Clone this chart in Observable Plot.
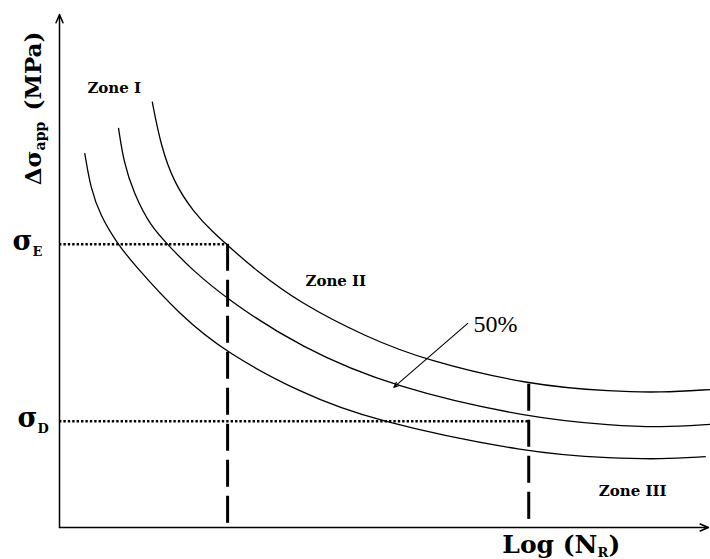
<!DOCTYPE html>
<html><head><meta charset="utf-8">
<script src="https://cdn.jsdelivr.net/npm/d3@7"></script>
<script src="https://cdn.jsdelivr.net/npm/@observablehq/plot@0.6"></script>
<style>body{margin:0;background:#fff}</style>
</head><body><div id="chart"></div>
<script>
// Schematic S-N (Wöhler) curves, arbitrary units: x = Log(N_R), y = stress amplitude
const curveTopX = [1.43,1.56,1.76,2.07,2.37,2.59,2.99,3.71,4.75,5.64,7.26,8.54,9.26,10.03];
const curveTopY = [8.29,7.45,6.73,6.14,5.75,5.50,5.05,4.37,3.70,3.26,2.77,2.65,2.63,2.69];
const curveMidX = [0.91,0.99,1.14,1.40,1.71,2.02,2.59,3.71,5.15,7.26,8.54,9.26,10.03];
const curveMidY = [7.78,7.12,6.53,5.87,5.46,5.05,4.44,3.51,2.73,2.13,1.99,1.95,2.01];
const curveLowX = [0.39,0.48,0.63,0.89,1.13,1.86,2.59,3.71,4.79,7.26,8.54,9.26,9.95];
const curveLowY = [7.29,6.61,6.08,5.54,5.15,4.13,3.39,2.63,2.09,1.44,1.35,1.33,1.38];

const levelNames = ["E", "D"];          // σ_E, σ_D
const levelValues = [5.52, 2.07];
const levelEnds = [2.59, 7.23];         // where the dotted lines stop
const dropX = [2.59, 7.23];             // vertical dashed lines
const dropTop = [5.52, 2.79];
const zoneNames = ["Zone I", "Zone II", "Zone III"];
const zoneX = [0.43, 3.79, 8.31];
const zoneY = [8.56, 4.80, 0.70];
const pointerLabel = "50%";
const pointerFrom = [6.29, 3.98];
const pointerTo = [5.15, 2.73];
const xDomain = [0, 10];
const yDomain = [0, 10];

const curves = [
  ...curveTopX.map((x, i) => ({c: "top", x, y: curveTopY[i]})),
  ...curveMidX.map((x, i) => ({c: "mid", x, y: curveMidY[i]})),
  ...curveLowX.map((x, i) => ({c: "low", x, y: curveLowY[i]}))
];
const levels = levelNames.map((n, i) => ({n, y: levelValues[i], xEnd: levelEnds[i]}));
const drops = dropX.map((x, i) => ({x, top: dropTop[i]}));
const zones = zoneNames.map((t, i) => ({t, x: zoneX[i], y: zoneY[i]}));
const axes = [
  {x1: xDomain[0], y1: yDomain[0], x2: xDomain[0], y2: yDomain[1]},
  {x1: xDomain[0], y1: yDomain[0], x2: xDomain[1], y2: yDomain[0]}
];
const pointer = [{x1: pointerFrom[0], y1: pointerFrom[1], x2: pointerTo[0], y2: pointerTo[1]}];

const serif = "'DejaVu Serif', serif";
const bold = {fontFamily: serif, fontWeight: "bold", fill: "black"};

const chart = Plot.plot({
  width: 710, height: 559,
  marginTop: 14, marginRight: 2, marginBottom: 32, marginLeft: 59,
  x: {domain: xDomain, axis: null},
  y: {domain: yDomain, axis: null},
  style: {background: "white", fontFamily: serif, color: "black", overflow: "visible"},
  marks: [
    Plot.ruleY(levels, {y: "y", x1: 0, x2: "xEnd", stroke: "black", strokeWidth: 2.6, strokeDasharray: "2.4,2"}),
    Plot.ruleX(drops, {x: "x", y1: "top", y2: 0, stroke: "black", strokeWidth: 3, strokeDasharray: "27,9"}),
    Plot.line(curves, {x: "x", y: "y", z: "c", curve: "basis", stroke: "black", strokeWidth: 1.3}),
    Plot.arrow(axes, {x1: "x1", y1: "y1", x2: "x2", y2: "y2", stroke: "black", strokeWidth: 1.5, headLength: 9, headAngle: 45}),
    Plot.arrow(pointer, {x1: "x1", y1: "y1", x2: "x2", y2: "y2", stroke: "black", strokeWidth: 1.1, headLength: 8, headAngle: 45}),
    Plot.text([pointerLabel], {x: pointerFrom[0] + 0.09, y: pointerFrom[1] - 0.02, text: d => d, textAnchor: "start", lineAnchor: "middle", fontSize: 24, fontFamily: "'Liberation Serif', serif", fill: "black"}),
    Plot.text(zones, {x: "x", y: "y", text: "t", textAnchor: "start", lineAnchor: "middle", fontSize: 15, ...bold}),
    // y-axis level labels σ_E, σ_D
    Plot.text(levels, {x: d => d.n === "E" ? -0.416 : -0.339, y: d => d.y + 0.06, text: () => "σ", textAnchor: "end", lineAnchor: "middle", fontSize: 27, ...bold}),
    Plot.text(levels, {x: d => d.n === "E" ? -0.416 : -0.339, y: d => d.y - 0.15, text: "n", textAnchor: "start", lineAnchor: "middle", fontSize: 13, ...bold}),
    // x-axis title Log (N_R)
    Plot.text(["Log (N"], {x: 8.289, y: -0.341, text: d => d, textAnchor: "end", lineAnchor: "middle", fontSize: 25, ...bold}),
    Plot.text(["R"], {x: 8.289, y: -0.50, text: d => d, textAnchor: "start", lineAnchor: "middle", fontSize: 13, ...bold}),
    Plot.text([")"], {x: 8.459, y: -0.341, text: d => d, textAnchor: "start", lineAnchor: "middle", fontSize: 25, ...bold}),
    // y-axis title Δσ_app (MPa), rotated
    Plot.text(["Δσ"], {x: -0.393, y: 7.35, text: d => d, rotate: -90, textAnchor: "end", lineAnchor: "middle", fontSize: 23, ...bold}),
    Plot.text(["app"], {x: -0.29, y: 7.35, text: d => d, rotate: -90, textAnchor: "start", lineAnchor: "middle", fontSize: 14, ...bold}),
    Plot.text(["(MPa)"], {x: -0.393, y: 8.13, text: d => d, rotate: -90, textAnchor: "start", lineAnchor: "middle", fontSize: 23, ...bold})
  ]
});
document.getElementById("chart").append(chart);
</script>
</body></html>
